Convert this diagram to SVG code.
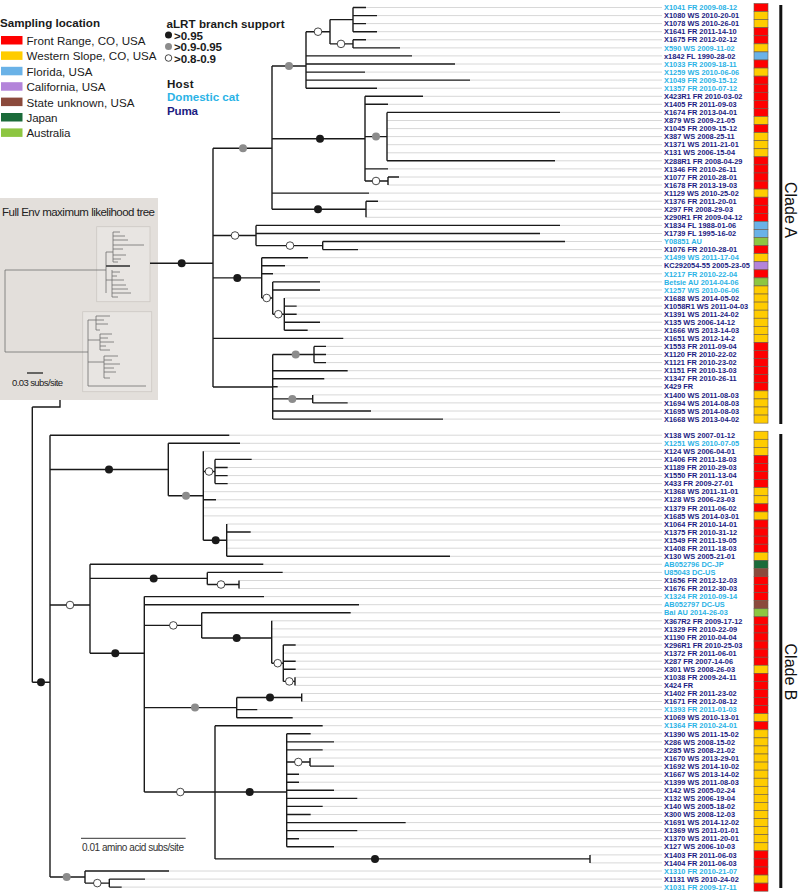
<svg xmlns="http://www.w3.org/2000/svg" width="798" height="893" viewBox="0 0 798 893">
<style>
.br{stroke:#1a1a1a;stroke-width:1.4;fill:none}
.tp{stroke:#d8d8d8;stroke-width:1;fill:none}
.it{stroke:#707070;stroke-width:0.8;fill:none}
.d1{fill:#1a1a1a}
.d2{fill:#8c8c8c}
.d3{fill:#fff;stroke:#1a1a1a;stroke-width:0.8}
.lb{font-family:"Liberation Sans",Arial,sans-serif;font-weight:bold;font-size:7.4px}
.pu{fill:#1c1c82}
.dc{fill:#2bb3e6}
.bx{stroke:#6a5a4a;stroke-width:0.6}
.R{fill:#ff0000}.Y{fill:#ffcc00}.B{fill:#6ab2e7}.P{fill:#b384da}.N{fill:#8b4a3c}.J{fill:#1b6b3a}.G{fill:#8dc641}
.lg{font-family:"Liberation Sans",Arial,sans-serif;font-size:11.6px;fill:#1a1a1a}
.lgb{font-family:"Liberation Sans",Arial,sans-serif;font-size:11.6px;font-weight:bold;fill:#1a1a1a}
</style>
<rect width="798" height="893" fill="#fff"/>

<g id="legend">
<text class="lgb" x="0" y="27" textLength="100">Sampling location</text>
<rect class="R" x="1" y="36" width="21.5" height="8.5"/><text class="lg" x="26.5" y="45" textLength="119">Front Range, CO, USA</text>
<rect class="Y" x="1" y="51.4" width="21.5" height="8.5"/><text class="lg" x="26.5" y="60.4" textLength="130">Western Slope, CO, USA</text>
<rect class="B" x="1" y="66.8" width="21.5" height="8.5"/><text class="lg" x="26.5" y="75.8" textLength="66">Florida, USA</text>
<rect class="P" x="1" y="82.2" width="21.5" height="8.5"/><text class="lg" x="26.5" y="91.2" textLength="79">California, USA</text>
<rect class="N" x="1" y="97.6" width="21.5" height="8.5"/><text class="lg" x="26.5" y="106.6" textLength="108">State unknown, USA</text>
<rect class="J" x="1" y="113" width="21.5" height="8.5"/><text class="lg" x="26.5" y="122" textLength="31">Japan</text>
<rect class="G" x="1" y="128.4" width="21.5" height="8.5"/><text class="lg" x="26.5" y="137.4" textLength="44">Australia</text>
<text class="lgb" x="166.5" y="28" textLength="118">aLRT branch support</text>
<circle class="d1" cx="168.5" cy="35" r="3.5"/><text class="lgb" x="174" y="39.5" font-size="10.5" textLength="29">&gt;0.95</text>
<circle class="d2" cx="168.5" cy="46.5" r="3.5"/><text class="lgb" x="174" y="51" font-size="10.5" textLength="48">&gt;0.9-0.95</text>
<circle class="d3" cx="168.5" cy="58" r="3.3"/><text class="lgb" x="174" y="62.5" font-size="10.5" textLength="42">&gt;0.8-0.9</text>
<text class="lgb" x="167" y="88" textLength="26.5">Host</text>
<text class="lgb" x="167" y="101" textLength="72" style="fill:#2bb3e6">Domestic cat</text>
<text class="lgb" x="167" y="114.5" textLength="31" style="fill:#1c1c82">Puma</text>
</g>

<g id="inset">
<rect x="0" y="198" width="158" height="202" fill="#e3dfdb"/>
<text x="2" y="216" font-family="Liberation Sans,Arial,sans-serif" font-size="11.5" fill="#222" textLength="153">Full Env maximum likelihood tree</text>
<rect x="96.7" y="226.7" width="53.3" height="75" fill="#e8e5e2" stroke="#cdc8c4" stroke-width="0.8"/>
<rect x="82.7" y="311.7" width="69" height="80" fill="#e8e5e2" stroke="#cdc8c4" stroke-width="0.8"/>
<path class="it" d="M5 270H106M106 252V293M106 252H113M113 232V262M113 232H120M113 236H125M113 240H128M113 245H144M113 249H123M113 255H126M113 259H121M113 262H118M106 266H130M106 280H112M112 270V297M112 272H120M112 276H117M112 280H124M112 285H126M112 289H128M112 293H131M112 297H118"/>
<path d="M106 266H130" stroke="#444" stroke-width="1.6"/>
<path class="it" d="M5 270V352H88M88 320V386M88 320H96M96 316V330M96 316H110M96 320H104M96 324H108M96 330H100M88 340H100M100 334V350M100 334H112M100 338H108M100 342H114M100 346H106M100 350H110M88 362H104M104 356V378M104 356H118M104 360H112M104 364H120M104 368H114M104 372H116M104 378H110M88 386H146"/>
<path d="M27 373H43" stroke="#222" stroke-width="1.3"/>
<text x="12" y="386" font-family="Liberation Sans,Arial,sans-serif" font-size="9.5" fill="#222" textLength="51">0.03 subs/site</text>
</g>

<g id="connectors">
<path class="tp" d="M366 7.5H662M377 15.6H662M366 23.6H662M377 31.7H662M366 39.8H662M400 47.9H662M412 55.9H662M455 64H662M365 72.1H662M470 80.1H662M377 88.2H662M423 96.3H662M388 104.3H662M560 112.4H662M387 120.5H662M387 128.6H662M387 136.6H662M387 144.7H662M387 152.8H662M555 160.8H662M388 168.9H662M399 177H662M388 185H662M369 193.1H662M378 201.2H662M366 209.3H662M366 217.3H662M560 225.4H662M540 233.5H662M565 241.5H662M358 249.6H662M308 257.7H662M285 265.7H662M273 273.8H662M320 281.9H662M320 290H662M284.3 298H662M296.7 306.1H662M296.7 314.2H662M320 322.2H662M307.7 330.3H662M343.3 338.4H662M326 346.4H662M326 354.5H662M326 362.6H662M347.7 370.7H662M324.3 378.7H662M277.7 386.8H662M312.7 394.9H662M347.7 402.9H662M371 411H662M443 419.1H662
M229.3 435.2H662M240 443.3H662M203.3 451.3H662M251.7 459.4H662M227.7 467.5H662M227.7 475.6H662M227.7 483.6H662M203.3 491.7H662M216 499.8H662M203.3 507.8H662M203.3 515.9H662M226.7 524H662M250.7 532H662M226.7 540.1H662M226.7 548.2H662M450 556.3H662M263.3 564.3H662M282.7 572.4H662M239 580.5H662M239 588.5H662M264 596.6H662M359 604.7H662M350.7 612.8H662M271.7 620.8H662M271.7 628.9H662M271.7 637H662M295.7 645H662M283.3 653.1H662M295.7 661.2H662M295.7 669.2H662M295 677.3H662M295 685.4H662M301.7 693.5H662M301.7 701.5H662M257.3 709.6H662M292.7 717.7H662M322.7 725.7H662M310.7 733.8H662M334 741.9H662M322.7 749.9H662M310 758H662M334 766.1H662M299 774.2H662M299 782.2H662M334 790.3H662M357.3 798.4H662M322.7 806.4H662M310.7 814.5H662M405.7 822.6H662M357.3 830.6H662M299 838.7H662M334 846.8H662M590 854.9H662M590 862.9H662M169 871H662M145 879.1H662M121.7 887.1H662"/>
<path class="br" d="M353 7.5V31.7M353 7.5H366M353 15.6H377M353 23.6H366M353 31.7H377M330 19.6H353
M353 39.8V47.9M353 39.8H366M353 47.9H400M330 43.9H353M330 19.6V43.9M306 31.7H330
M306 31.7V88.2M306 55.9H412M306 64H455M306 72.1H365M306 80.1H470M306 88.2H377M272 66H306
M388 177V185M388 177H399M365 181H388
M387 112.4V160.8M387 112.4H560M387 160.8H555M365 136.6H387
M365 96.3V181M365 96.3H423M365 104.3H388M365 168.9H388M272 138.7H365
M272 193.1H369
M366 201.2V217.3M366 201.2H378M272 209.3H366
M272 66V209.3M213 148.3H272
M322.7 241.5V249.6M322.7 241.5H565M322.7 249.6H358M256 245.6H322.7
M256 225.4V245.6M256 225.4H560M256 233.5H540M213 235.5H256
M284.3 298V330.3M284.3 306.1H296.7M284.3 314.2H296.7M284.3 322.2H320M284.3 330.3H307.7M272.7 314.2H284.3
M272.7 281.9V314.2M272.7 281.9H320M272.7 290H320M261.7 298H272.7
M261.7 257.7V298M261.7 257.7H308M261.7 265.7H285M261.7 273.8H273M213 277.9H261.7
M213 338.4H343.3
M314 346.4V362.6M314 346.4H326M314 354.5H326M314 362.6H326M272.7 354.5H314
M312.7 394.9V402.9M312.7 402.9H347.7M272.7 398.9H312.7
M272.7 354.5V419.1M272.7 370.7H347.7M272.7 378.7H324.3M272.7 386.8H277.7M272.7 411H371M272.7 419.1H443M213 387H272.7
M213 148.3V387M150 263.3H213
M50 435.2H229.3
M215 459.4V483.6M215 459.4H251.7M215 467.5H227.7M215 475.6H227.7M215 483.6H227.7M203.3 471.5H215
M226.7 524V556.3M226.7 532H250.7M226.7 556.3H450M203.3 540.2H226.7
M203.3 451.3V540.2M203.3 499.8H216M168.3 495.8H203.3
M168.3 443.3V495.8M168.3 443.3H240M50 469.5H168.3
M207.3 572.4V584.5M207.3 572.4H282.7M239 580.5V588.5M207.3 584.5H239M90 578.4H207.3
M295 677.3V685.4M283.3 681.4H295
M283.3 645V681.4M283.3 645H295.7M283.3 661.2H295.7M283.3 669.2H295.7M271.7 663.2H283.3
M271.7 620.8V663.2M201.7 638H271.7
M201.7 612.8V638M201.7 612.8H350.7M144.3 625.4H201.7
M301.7 693.5V701.5M236.7 697.5H301.7
M236.7 697.5V717.7M236.7 709.6H257.3M236.7 717.7H292.7M144.3 707.6H236.7
M310 758V766.1M310 766.1H334M286.7 762H310
M286.7 733.8V846.8M286.7 733.8H310.7M286.7 741.9H334M286.7 749.9H322.7M286.7 774.2H299M286.7 782.2H299M286.7 790.3H334M286.7 798.4H357.3M286.7 806.4H322.7M286.7 814.5H310.7M286.7 822.6H405.7M286.7 830.6H357.3M286.7 838.7H299M286.7 846.8H334M215 792H286.7
M215 858.9H590M590 854.9V862.9
M215 725.7V858.9M215 725.7H322.7M144.3 792H215
M144.3 596.6V792M144.3 596.6H264M144.3 604.7H359M90 653.3H144.3
M90 564.3V653.3M90 564.3H263.3M50 605H90
M109.3 879.1V887.1M109.3 879.1H145M109.3 887.1H121.7M85 883.1H109.3
M85 871V883.1M85 871H169M50 877H85
M50 435.2V877M32.3 682.3H50
M32.3 407V682.3M32.3 407H60V400"/>
<g id="support">
<circle class="d2" cx="289" cy="66" r="4"/>
<circle class="d3" cx="318" cy="31.7" r="3.8"/>
<circle class="d3" cx="341" cy="43.9" r="3.8"/>
<circle class="d1" cx="320" cy="138.7" r="4"/>
<circle class="d2" cx="376" cy="136.6" r="4"/>
<circle class="d3" cx="376" cy="181" r="3.8"/>
<circle class="d1" cx="318" cy="209.3" r="4"/>
<circle class="d2" cx="243" cy="148.3" r="4"/>
<circle class="d1" cx="181.7" cy="263.3" r="4"/>
<circle class="d3" cx="235" cy="235.5" r="3.8"/>
<circle class="d3" cx="290" cy="245.6" r="3.8"/>
<circle class="d1" cx="237.3" cy="277.9" r="4"/>
<circle class="d3" cx="266.7" cy="298" r="3.8"/>
<circle class="d3" cx="278.3" cy="314.2" r="3.8"/>
<circle class="d2" cx="295.7" cy="354.5" r="4"/>
<circle class="d2" cx="292.3" cy="398.9" r="4"/>
<circle class="d1" cx="109" cy="469.5" r="4"/>
<circle class="d2" cx="186" cy="495.8" r="4"/>
<circle class="d3" cx="209" cy="471.5" r="3.8"/>
<circle class="d1" cx="215.7" cy="540.2" r="4"/>
<circle class="d3" cx="70" cy="605" r="3.8"/>
<circle class="d1" cx="153.7" cy="578.4" r="4"/>
<circle class="d3" cx="221" cy="584.5" r="3.8"/>
<circle class="d1" cx="115.3" cy="653.3" r="4"/>
<circle class="d3" cx="173.3" cy="625.4" r="3.8"/>
<circle class="d1" cx="236.7" cy="638" r="4"/>
<circle class="d3" cx="277.7" cy="663.2" r="3.8"/>
<circle class="d3" cx="289.3" cy="681.4" r="3.8"/>
<circle class="d2" cx="195" cy="707.6" r="4"/>
<circle class="d1" cx="270" cy="697.5" r="4"/>
<circle class="d3" cx="180.3" cy="792" r="3.8"/>
<circle class="d1" cx="249.7" cy="792" r="4"/>
<circle class="d3" cx="298.3" cy="762" r="3.8"/>
<circle class="d1" cx="375" cy="858.9" r="4"/>
<circle class="d2" cx="66.7" cy="877" r="4"/>
<circle class="d3" cx="97.3" cy="883.1" r="3.8"/>
<circle class="d1" cx="41" cy="682.3" r="4"/>
</g>
</g>

<g id="scale">
<path d="M81 838.3H185.7" stroke="#333" stroke-width="1"/>
<text x="82" y="851" font-family="Liberation Sans,Arial,sans-serif" font-size="10" fill="#333" textLength="102">0.01 amino acid subs/site</text>
</g>

<g id="leaves">
<g id="t0" transform="translate(0 7.5)"><text class="lb dc" x="664" y="2.7">X1041 FR 2009-08-12</text><rect class="bx R" x="754" y="-4" width="14" height="8.07"/></g>
<g id="t1" transform="translate(0 15.57)"><text class="lb pu" x="664" y="2.7">X1080 WS 2010-20-01</text><rect class="bx Y" x="754" y="-4" width="14" height="8.07"/></g>
<g id="t2" transform="translate(0 23.64)"><text class="lb pu" x="664" y="2.7">X1078 WS 2010-26-01</text><rect class="bx Y" x="754" y="-4" width="14" height="8.07"/></g>
<g id="t3" transform="translate(0 31.71)"><text class="lb pu" x="664" y="2.7">X1641 FR 2011-14-10</text><rect class="bx R" x="754" y="-4" width="14" height="8.07"/></g>
<g id="t4" transform="translate(0 39.78)"><text class="lb pu" x="664" y="2.7">X1675 FR 2012-02-12</text><rect class="bx R" x="754" y="-4" width="14" height="8.07"/></g>
<g id="t5" transform="translate(0 47.85)"><text class="lb dc" x="664" y="2.7">X590 WS 2009-11-02</text><rect class="bx Y" x="754" y="-4" width="14" height="8.07"/></g>
<g id="t6" transform="translate(0 55.92)"><text class="lb pu" x="664" y="2.7">x1842 FL 1990-28-02</text><rect class="bx B" x="754" y="-4" width="14" height="8.07"/></g>
<g id="t7" transform="translate(0 63.99)"><text class="lb dc" x="664" y="2.7">X1033 FR 2009-18-11</text><rect class="bx R" x="754" y="-4" width="14" height="8.07"/></g>
<g id="t8" transform="translate(0 72.06)"><text class="lb dc" x="664" y="2.7">X1259 WS 2010-06-06</text><rect class="bx Y" x="754" y="-4" width="14" height="8.07"/></g>
<g id="t9" transform="translate(0 80.13)"><text class="lb dc" x="664" y="2.7">X1049 FR 2009-15-12</text><rect class="bx R" x="754" y="-4" width="14" height="8.07"/></g>
<g id="t10" transform="translate(0 88.2)"><text class="lb dc" x="664" y="2.7">X1357 FR 2010-07-12</text><rect class="bx R" x="754" y="-4" width="14" height="8.07"/></g>
<g id="t11" transform="translate(0 96.27)"><text class="lb pu" x="664" y="2.7">X423R1 FR 2010-03-02</text><rect class="bx R" x="754" y="-4" width="14" height="8.07"/></g>
<g id="t12" transform="translate(0 104.34)"><text class="lb pu" x="664" y="2.7">X1405 FR 2011-09-03</text><rect class="bx R" x="754" y="-4" width="14" height="8.07"/></g>
<g id="t13" transform="translate(0 112.41)"><text class="lb pu" x="664" y="2.7">X1674 FR 2013-04-01</text><rect class="bx R" x="754" y="-4" width="14" height="8.07"/></g>
<g id="t14" transform="translate(0 120.48)"><text class="lb pu" x="664" y="2.7">X879 WS 2009-21-05</text><rect class="bx Y" x="754" y="-4" width="14" height="8.07"/></g>
<g id="t15" transform="translate(0 128.55)"><text class="lb pu" x="664" y="2.7">X1045 FR 2009-15-12</text><rect class="bx R" x="754" y="-4" width="14" height="8.07"/></g>
<g id="t16" transform="translate(0 136.62)"><text class="lb pu" x="664" y="2.7">X387 WS 2008-25-11</text><rect class="bx Y" x="754" y="-4" width="14" height="8.07"/></g>
<g id="t17" transform="translate(0 144.69)"><text class="lb pu" x="664" y="2.7">X1371 WS 2011-21-01</text><rect class="bx Y" x="754" y="-4" width="14" height="8.07"/></g>
<g id="t18" transform="translate(0 152.76)"><text class="lb pu" x="664" y="2.7">X131 WS 2006-15-04</text><rect class="bx Y" x="754" y="-4" width="14" height="8.07"/></g>
<g id="t19" transform="translate(0 160.83)"><text class="lb pu" x="664" y="2.7">X288R1 FR 2008-04-29</text><rect class="bx R" x="754" y="-4" width="14" height="8.07"/></g>
<g id="t20" transform="translate(0 168.9)"><text class="lb pu" x="664" y="2.7">X1346 FR 2010-26-11</text><rect class="bx R" x="754" y="-4" width="14" height="8.07"/></g>
<g id="t21" transform="translate(0 176.97)"><text class="lb pu" x="664" y="2.7">X1077 FR 2010-28-01</text><rect class="bx R" x="754" y="-4" width="14" height="8.07"/></g>
<g id="t22" transform="translate(0 185.04)"><text class="lb pu" x="664" y="2.7">X1678 FR 2013-19-03</text><rect class="bx R" x="754" y="-4" width="14" height="8.07"/></g>
<g id="t23" transform="translate(0 193.11)"><text class="lb pu" x="664" y="2.7">X1129 WS 2010-25-02</text><rect class="bx Y" x="754" y="-4" width="14" height="8.07"/></g>
<g id="t24" transform="translate(0 201.18)"><text class="lb pu" x="664" y="2.7">X1376 FR 2011-20-01</text><rect class="bx R" x="754" y="-4" width="14" height="8.07"/></g>
<g id="t25" transform="translate(0 209.25)"><text class="lb pu" x="664" y="2.7">X297 FR 2008-29-03</text><rect class="bx R" x="754" y="-4" width="14" height="8.07"/></g>
<g id="t26" transform="translate(0 217.32)"><text class="lb pu" x="664" y="2.7">X290R1 FR 2009-04-12</text><rect class="bx R" x="754" y="-4" width="14" height="8.07"/></g>
<g id="t27" transform="translate(0 225.39)"><text class="lb pu" x="664" y="2.7">X1834 FL 1988-01-06</text><rect class="bx B" x="754" y="-4" width="14" height="8.07"/></g>
<g id="t28" transform="translate(0 233.46)"><text class="lb pu" x="664" y="2.7">X1739 FL 1995-16-02</text><rect class="bx B" x="754" y="-4" width="14" height="8.07"/></g>
<g id="t29" transform="translate(0 241.53)"><text class="lb dc" x="664" y="2.7">Y08851 AU</text><rect class="bx G" x="754" y="-4" width="14" height="8.07"/></g>
<g id="t30" transform="translate(0 249.6)"><text class="lb pu" x="664" y="2.7">X1076 FR 2010-28-01</text><rect class="bx R" x="754" y="-4" width="14" height="8.07"/></g>
<g id="t31" transform="translate(0 257.67)"><text class="lb dc" x="664" y="2.7">X1499 WS 2011-17-04</text><rect class="bx Y" x="754" y="-4" width="14" height="8.07"/></g>
<g id="t32" transform="translate(0 265.74)"><text class="lb pu" x="664" y="2.7">KC292054-55 2005-23-05</text><rect class="bx P" x="754" y="-4" width="14" height="8.07"/></g>
<g id="t33" transform="translate(0 273.81)"><text class="lb dc" x="664" y="2.7">X1217 FR 2010-22-04</text><rect class="bx R" x="754" y="-4" width="14" height="8.07"/></g>
<g id="t34" transform="translate(0 281.88)"><text class="lb dc" x="664" y="2.7">Betsie AU 2014-04-06</text><rect class="bx G" x="754" y="-4" width="14" height="8.07"/></g>
<g id="t35" transform="translate(0 289.95)"><text class="lb dc" x="664" y="2.7">X1257 WS 2010-06-06</text><rect class="bx Y" x="754" y="-4" width="14" height="8.07"/></g>
<g id="t36" transform="translate(0 298.02)"><text class="lb pu" x="664" y="2.7">X1688 WS 2014-05-02</text><rect class="bx Y" x="754" y="-4" width="14" height="8.07"/></g>
<g id="t37" transform="translate(0 306.09)"><text class="lb pu" x="664" y="2.7">X1058R1 WS 2011-04-03</text><rect class="bx Y" x="754" y="-4" width="14" height="8.07"/></g>
<g id="t38" transform="translate(0 314.16)"><text class="lb pu" x="664" y="2.7">X1391 WS 2011-24-02</text><rect class="bx Y" x="754" y="-4" width="14" height="8.07"/></g>
<g id="t39" transform="translate(0 322.23)"><text class="lb pu" x="664" y="2.7">X135 WS 2006-14-12</text><rect class="bx Y" x="754" y="-4" width="14" height="8.07"/></g>
<g id="t40" transform="translate(0 330.3)"><text class="lb pu" x="664" y="2.7">X1666 WS 2013-14-03</text><rect class="bx Y" x="754" y="-4" width="14" height="8.07"/></g>
<g id="t41" transform="translate(0 338.37)"><text class="lb pu" x="664" y="2.7">X1651 WS 2012-14-2</text><rect class="bx Y" x="754" y="-4" width="14" height="8.07"/></g>
<g id="t42" transform="translate(0 346.44)"><text class="lb pu" x="664" y="2.7">X1553 FR 2011-09-04</text><rect class="bx R" x="754" y="-4" width="14" height="8.07"/></g>
<g id="t43" transform="translate(0 354.51)"><text class="lb pu" x="664" y="2.7">X1120 FR 2010-22-02</text><rect class="bx R" x="754" y="-4" width="14" height="8.07"/></g>
<g id="t44" transform="translate(0 362.58)"><text class="lb pu" x="664" y="2.7">X1121 FR 2010-23-02</text><rect class="bx R" x="754" y="-4" width="14" height="8.07"/></g>
<g id="t45" transform="translate(0 370.65)"><text class="lb pu" x="664" y="2.7">X1151 FR 2010-13-03</text><rect class="bx R" x="754" y="-4" width="14" height="8.07"/></g>
<g id="t46" transform="translate(0 378.72)"><text class="lb pu" x="664" y="2.7">X1347 FR 2010-26-11</text><rect class="bx R" x="754" y="-4" width="14" height="8.07"/></g>
<g id="t47" transform="translate(0 386.79)"><text class="lb pu" x="664" y="2.7">X429 FR</text><rect class="bx R" x="754" y="-4" width="14" height="8.07"/></g>
<g id="t48" transform="translate(0 394.86)"><text class="lb pu" x="664" y="2.7">X1400 WS 2011-08-03</text><rect class="bx Y" x="754" y="-4" width="14" height="8.07"/></g>
<g id="t49" transform="translate(0 402.93)"><text class="lb pu" x="664" y="2.7">X1694 WS 2014-08-03</text><rect class="bx Y" x="754" y="-4" width="14" height="8.07"/></g>
<g id="t50" transform="translate(0 411)"><text class="lb pu" x="664" y="2.7">X1695 WS 2014-08-03</text><rect class="bx Y" x="754" y="-4" width="14" height="8.07"/></g>
<g id="t51" transform="translate(0 419.07)"><text class="lb pu" x="664" y="2.7">X1668 WS 2013-04-02</text><rect class="bx Y" x="754" y="-4" width="14" height="8.07"/></g>
<g id="t53" transform="translate(0 435.21)"><text class="lb pu" x="664" y="2.7">X138 WS 2007-01-12</text><rect class="bx Y" x="754" y="-4" width="14" height="8.07"/></g>
<g id="t54" transform="translate(0 443.28)"><text class="lb dc" x="664" y="2.7">X1251 WS 2010-07-05</text><rect class="bx Y" x="754" y="-4" width="14" height="8.07"/></g>
<g id="t55" transform="translate(0 451.35)"><text class="lb pu" x="664" y="2.7">X124 WS 2006-04-01</text><rect class="bx Y" x="754" y="-4" width="14" height="8.07"/></g>
<g id="t56" transform="translate(0 459.42)"><text class="lb pu" x="664" y="2.7">X1406 FR 2011-18-03</text><rect class="bx R" x="754" y="-4" width="14" height="8.07"/></g>
<g id="t57" transform="translate(0 467.49)"><text class="lb pu" x="664" y="2.7">X1189 FR 2010-29-03</text><rect class="bx R" x="754" y="-4" width="14" height="8.07"/></g>
<g id="t58" transform="translate(0 475.56)"><text class="lb pu" x="664" y="2.7">X1550 FR 2011-13-04</text><rect class="bx R" x="754" y="-4" width="14" height="8.07"/></g>
<g id="t59" transform="translate(0 483.63)"><text class="lb pu" x="664" y="2.7">X433 FR 2009-27-01</text><rect class="bx R" x="754" y="-4" width="14" height="8.07"/></g>
<g id="t60" transform="translate(0 491.7)"><text class="lb pu" x="664" y="2.7">X1368 WS 2011-11-01</text><rect class="bx Y" x="754" y="-4" width="14" height="8.07"/></g>
<g id="t61" transform="translate(0 499.77)"><text class="lb pu" x="664" y="2.7">X128 WS 2006-23-03</text><rect class="bx Y" x="754" y="-4" width="14" height="8.07"/></g>
<g id="t62" transform="translate(0 507.84)"><text class="lb pu" x="664" y="2.7">X1379 FR 2011-06-02</text><rect class="bx R" x="754" y="-4" width="14" height="8.07"/></g>
<g id="t63" transform="translate(0 515.91)"><text class="lb pu" x="664" y="2.7">X1685 WS 2014-03-01</text><rect class="bx Y" x="754" y="-4" width="14" height="8.07"/></g>
<g id="t64" transform="translate(0 523.98)"><text class="lb pu" x="664" y="2.7">X1064 FR 2010-14-01</text><rect class="bx R" x="754" y="-4" width="14" height="8.07"/></g>
<g id="t65" transform="translate(0 532.05)"><text class="lb pu" x="664" y="2.7">X1375 FR 2010-31-12</text><rect class="bx R" x="754" y="-4" width="14" height="8.07"/></g>
<g id="t66" transform="translate(0 540.12)"><text class="lb pu" x="664" y="2.7">X1549 FR 2011-19-05</text><rect class="bx R" x="754" y="-4" width="14" height="8.07"/></g>
<g id="t67" transform="translate(0 548.19)"><text class="lb pu" x="664" y="2.7">X1408 FR 2011-18-03</text><rect class="bx R" x="754" y="-4" width="14" height="8.07"/></g>
<g id="t68" transform="translate(0 556.26)"><text class="lb pu" x="664" y="2.7">X130 WS 2005-21-01</text><rect class="bx Y" x="754" y="-4" width="14" height="8.07"/></g>
<g id="t69" transform="translate(0 564.33)"><text class="lb dc" x="664" y="2.7">AB052796 DC-JP</text><rect class="bx J" x="754" y="-4" width="14" height="8.07"/></g>
<g id="t70" transform="translate(0 572.4)"><text class="lb dc" x="664" y="2.7">U85043 DC-US</text><rect class="bx N" x="754" y="-4" width="14" height="8.07"/></g>
<g id="t71" transform="translate(0 580.47)"><text class="lb pu" x="664" y="2.7">X1656 FR 2012-12-03</text><rect class="bx R" x="754" y="-4" width="14" height="8.07"/></g>
<g id="t72" transform="translate(0 588.54)"><text class="lb pu" x="664" y="2.7">X1676 FR 2012-30-03</text><rect class="bx R" x="754" y="-4" width="14" height="8.07"/></g>
<g id="t73" transform="translate(0 596.61)"><text class="lb dc" x="664" y="2.7">X1324 FR 2010-09-14</text><rect class="bx R" x="754" y="-4" width="14" height="8.07"/></g>
<g id="t74" transform="translate(0 604.68)"><text class="lb dc" x="664" y="2.7">AB052797 DC-US</text><rect class="bx N" x="754" y="-4" width="14" height="8.07"/></g>
<g id="t75" transform="translate(0 612.75)"><text class="lb dc" x="664" y="2.7">Bai AU 2014-26-03</text><rect class="bx G" x="754" y="-4" width="14" height="8.07"/></g>
<g id="t76" transform="translate(0 620.82)"><text class="lb pu" x="664" y="2.7">X367R2 FR 2009-17-12</text><rect class="bx R" x="754" y="-4" width="14" height="8.07"/></g>
<g id="t77" transform="translate(0 628.89)"><text class="lb pu" x="664" y="2.7">X1329 FR 2010-22-09</text><rect class="bx R" x="754" y="-4" width="14" height="8.07"/></g>
<g id="t78" transform="translate(0 636.96)"><text class="lb pu" x="664" y="2.7">X1190 FR 2010-04-04</text><rect class="bx R" x="754" y="-4" width="14" height="8.07"/></g>
<g id="t79" transform="translate(0 645.03)"><text class="lb pu" x="664" y="2.7">X296R1 FR 2010-25-03</text><rect class="bx R" x="754" y="-4" width="14" height="8.07"/></g>
<g id="t80" transform="translate(0 653.1)"><text class="lb pu" x="664" y="2.7">X1372 FR 2011-06-01</text><rect class="bx R" x="754" y="-4" width="14" height="8.07"/></g>
<g id="t81" transform="translate(0 661.17)"><text class="lb pu" x="664" y="2.7">X287 FR 2007-14-06</text><rect class="bx R" x="754" y="-4" width="14" height="8.07"/></g>
<g id="t82" transform="translate(0 669.24)"><text class="lb pu" x="664" y="2.7">X301 WS 2008-26-03</text><rect class="bx Y" x="754" y="-4" width="14" height="8.07"/></g>
<g id="t83" transform="translate(0 677.31)"><text class="lb pu" x="664" y="2.7">X1038 FR 2009-24-11</text><rect class="bx R" x="754" y="-4" width="14" height="8.07"/></g>
<g id="t84" transform="translate(0 685.38)"><text class="lb pu" x="664" y="2.7">X424 FR</text><rect class="bx R" x="754" y="-4" width="14" height="8.07"/></g>
<g id="t85" transform="translate(0 693.45)"><text class="lb pu" x="664" y="2.7">X1402 FR 2011-23-02</text><rect class="bx R" x="754" y="-4" width="14" height="8.07"/></g>
<g id="t86" transform="translate(0 701.52)"><text class="lb pu" x="664" y="2.7">X1671 FR 2012-08-12</text><rect class="bx R" x="754" y="-4" width="14" height="8.07"/></g>
<g id="t87" transform="translate(0 709.59)"><text class="lb dc" x="664" y="2.7">X1393 FR 2011-01-03</text><rect class="bx R" x="754" y="-4" width="14" height="8.07"/></g>
<g id="t88" transform="translate(0 717.66)"><text class="lb pu" x="664" y="2.7">X1069 WS 2010-13-01</text><rect class="bx Y" x="754" y="-4" width="14" height="8.07"/></g>
<g id="t89" transform="translate(0 725.73)"><text class="lb dc" x="664" y="2.7">X1364 FR 2010-24-01</text><rect class="bx R" x="754" y="-4" width="14" height="8.07"/></g>
<g id="t90" transform="translate(0 733.8)"><text class="lb pu" x="664" y="2.7">X1390 WS 2011-15-02</text><rect class="bx Y" x="754" y="-4" width="14" height="8.07"/></g>
<g id="t91" transform="translate(0 741.87)"><text class="lb pu" x="664" y="2.7">X286 WS 2008-15-02</text><rect class="bx Y" x="754" y="-4" width="14" height="8.07"/></g>
<g id="t92" transform="translate(0 749.94)"><text class="lb pu" x="664" y="2.7">X285 WS 2008-21-02</text><rect class="bx Y" x="754" y="-4" width="14" height="8.07"/></g>
<g id="t93" transform="translate(0 758.01)"><text class="lb pu" x="664" y="2.7">X1670 WS 2013-29-01</text><rect class="bx Y" x="754" y="-4" width="14" height="8.07"/></g>
<g id="t94" transform="translate(0 766.08)"><text class="lb pu" x="664" y="2.7">X1692 WS 2014-10-02</text><rect class="bx Y" x="754" y="-4" width="14" height="8.07"/></g>
<g id="t95" transform="translate(0 774.15)"><text class="lb pu" x="664" y="2.7">X1667 WS 2013-14-02</text><rect class="bx Y" x="754" y="-4" width="14" height="8.07"/></g>
<g id="t96" transform="translate(0 782.22)"><text class="lb pu" x="664" y="2.7">X1399 WS 2011-08-03</text><rect class="bx Y" x="754" y="-4" width="14" height="8.07"/></g>
<g id="t97" transform="translate(0 790.29)"><text class="lb pu" x="664" y="2.7">X142 WS 2005-02-24</text><rect class="bx Y" x="754" y="-4" width="14" height="8.07"/></g>
<g id="t98" transform="translate(0 798.36)"><text class="lb pu" x="664" y="2.7">X132 WS 2006-19-04</text><rect class="bx Y" x="754" y="-4" width="14" height="8.07"/></g>
<g id="t99" transform="translate(0 806.43)"><text class="lb pu" x="664" y="2.7">X140 WS 2005-18-02</text><rect class="bx Y" x="754" y="-4" width="14" height="8.07"/></g>
<g id="t100" transform="translate(0 814.5)"><text class="lb pu" x="664" y="2.7">X300 WS 2008-12-03</text><rect class="bx Y" x="754" y="-4" width="14" height="8.07"/></g>
<g id="t101" transform="translate(0 822.57)"><text class="lb pu" x="664" y="2.7">X1691 WS 2014-12-02</text><rect class="bx Y" x="754" y="-4" width="14" height="8.07"/></g>
<g id="t102" transform="translate(0 830.64)"><text class="lb pu" x="664" y="2.7">X1369 WS 2011-01-01</text><rect class="bx Y" x="754" y="-4" width="14" height="8.07"/></g>
<g id="t103" transform="translate(0 838.71)"><text class="lb pu" x="664" y="2.7">X1370 WS 2011-20-01</text><rect class="bx Y" x="754" y="-4" width="14" height="8.07"/></g>
<g id="t104" transform="translate(0 846.78)"><text class="lb pu" x="664" y="2.7">X127 WS 2006-10-03</text><rect class="bx Y" x="754" y="-4" width="14" height="8.07"/></g>
<g id="t105" transform="translate(0 854.85)"><text class="lb pu" x="664" y="2.7">X1403 FR 2011-06-03</text><rect class="bx R" x="754" y="-4" width="14" height="8.07"/></g>
<g id="t106" transform="translate(0 862.92)"><text class="lb pu" x="664" y="2.7">X1404 FR 2011-06-03</text><rect class="bx R" x="754" y="-4" width="14" height="8.07"/></g>
<g id="t107" transform="translate(0 870.99)"><text class="lb dc" x="664" y="2.7">X1310 FR 2010-21-07</text><rect class="bx R" x="754" y="-4" width="14" height="8.07"/></g>
<g id="t108" transform="translate(0 879.06)"><text class="lb pu" x="664" y="2.7">X1131 WS 2010-24-02</text><rect class="bx Y" x="754" y="-4" width="14" height="8.07"/></g>
<g id="t109" transform="translate(0 887.13)"><text class="lb dc" x="664" y="2.7">X1031 FR 2009-17-11</text><rect class="bx R" x="754" y="-4" width="14" height="8.07"/></g>
</g>

<g id="clades">
<rect x="779.3" y="5" width="3" height="419" fill="#111"/>
<rect x="779.3" y="434" width="3" height="454" fill="#111"/>
<text transform="translate(785 210) rotate(90)" text-anchor="middle" font-family="Liberation Sans,Arial,sans-serif" font-size="16" fill="#111">Clade A</text>
<text transform="translate(785 672) rotate(90)" text-anchor="middle" font-family="Liberation Sans,Arial,sans-serif" font-size="16" fill="#111">Clade B</text>
</g>
</svg>
